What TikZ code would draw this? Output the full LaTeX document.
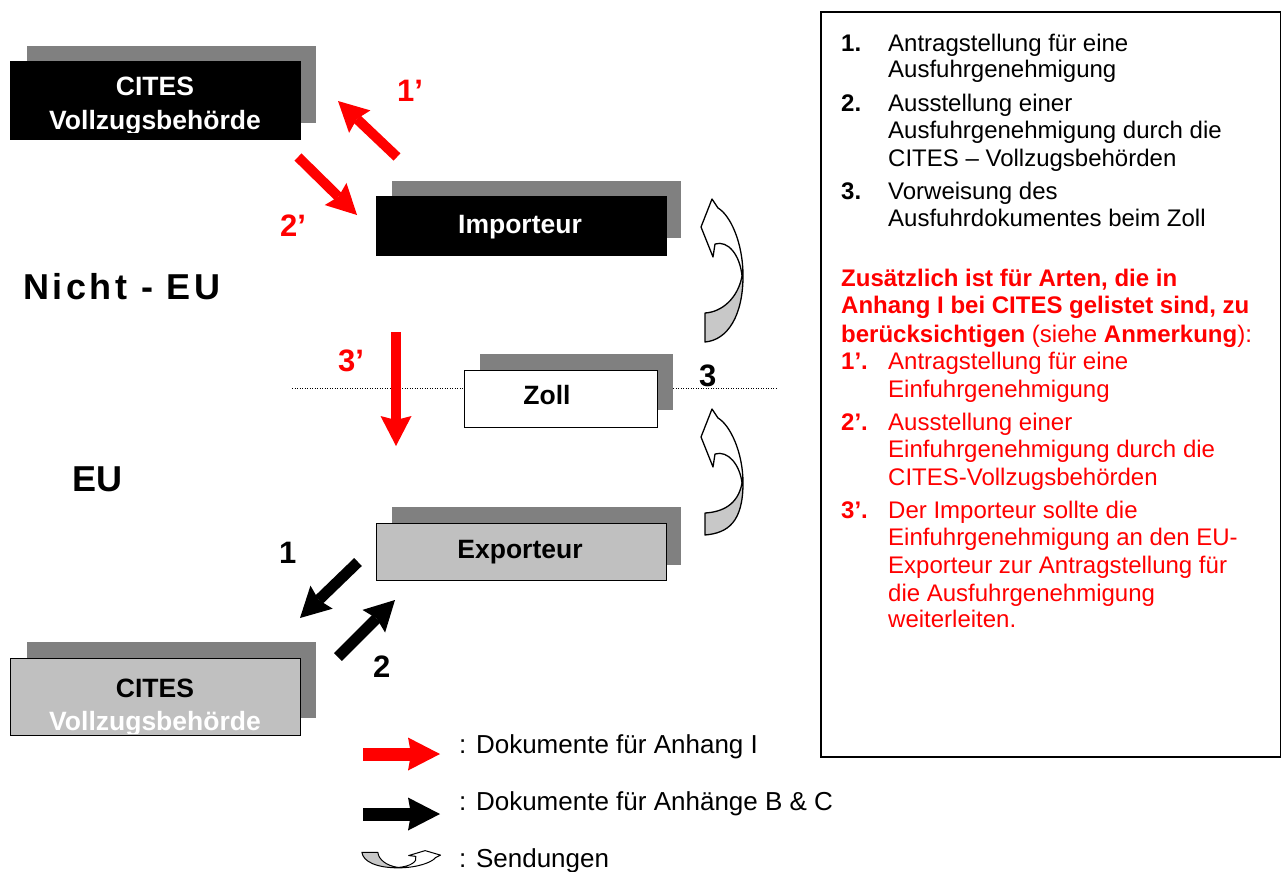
\documentclass[tikz,border=0pt]{standalone}
\usepackage{fontspec}
\setmainfont{Liberation Sans}
\usetikzlibrary{arrows.meta}
\definecolor{shadowgray}{HTML}{808080}
\definecolor{boxgray}{HTML}{C0C0C0}
\definecolor{ribbongray}{HTML}{C8C8C8}
\definecolor{citesred}{HTML}{FF0000}
\newcommand\sendungshape[3]{% #1 tail top, #2 tail bottom, #3 crossing
  \fill[white] (25,#2) .. controls (48,#2-2) and (63,#3+39) .. (63,#3) .. controls (63,62) and (50,35) .. (38,28) -- (32,19) -- (21,47) -- (33,77) -- (35,64) .. controls (48,60) and (60,75) .. (62,#3) .. controls (58,#3+22) and (42,#1-1) .. (25,#1) -- cycle;
  \fill[ribbongray] (62,#3) .. controls (58,#3+22) and (42,#1-1) .. (25,#1) -- (25,#2) .. controls (48,#2-2) and (63,#3+39) .. (63,#3) -- cycle;
  \draw[sendline] (25,#2) .. controls (48,#2-2) and (63,#3+39) .. (63,#3) .. controls (63,62) and (50,35) .. (38,28) -- (32,19) -- (21,47) -- (33,77) -- (35,64) .. controls (48,60) and (60,75) .. (62,#3) .. controls (58,#3+22) and (42,#1-1) .. (25,#1) -- cycle;
}
\begin{document}
\begin{tikzpicture}[x=1pt,y=-1pt,
  shadowbox/.style={fill=shadowgray, draw=none, inner sep=0, anchor=north west, minimum width=289pt},
  darkbox/.style={fill=black, draw=black, line width=0.8pt, inner sep=0, anchor=north west, minimum width=290pt},
  lightbox/.style={fill=boxgray, draw=black, line width=1.2pt, inner sep=0, anchor=north west, minimum width=290pt},
  whitebox/.style={fill=white, draw=black, line width=1.2pt, inner sep=0, anchor=north west, minimum width=193pt, minimum height=57pt},
  boxlbl/.style={anchor=base, inner sep=0, font=\fontsize{26.5}{30}\selectfont\bfseries},
  steplbl/.style={anchor=base west, inner sep=0, font=\fontsize{31}{34}\selectfont\bfseries},
  regionlbl/.style={anchor=base west, inner sep=0, font=\fontsize{36}{40}\selectfont\bfseries},
  txt/.style={anchor=base west, inner sep=0, font=\fontsize{24}{27}\selectfont},
  legtxt/.style={anchor=base west, inner sep=0, font=\fontsize{26}{30}\selectfont},
  redarrow/.style={draw=citesred, line width=10pt, -{Stealth[width=31pt,length=30pt,inset=4pt,line width=0pt]}},
  blackarrow/.style={draw=black, line width=11pt, -{Stealth[width=32pt,length=30pt,inset=4pt,line width=0pt]}},
  legredarrow/.style={draw=citesred, line width=13pt, -{Stealth[width=33pt,length=32pt,inset=3pt,line width=0pt]}},
  legblackarrow/.style={draw=black, line width=13pt, -{Stealth[width=33pt,length=32pt,inset=3pt,line width=0pt]}},
  sendline/.style={draw=black, line width=1.3pt, line join=round},
  sepline/.style={draw=black, line width=1pt, dash pattern=on 1pt off 1.5pt}
]
\useasboundingbox (0,0) rectangle (1281,871);

% ---- CITES top (Nicht-EU)
\node[shadowbox, minimum height=77pt] (citesAsh) at (27,46) {};
\node[darkbox, minimum height=78pt] (citesA) at (10,61) {};
\node[boxlbl, text=white] (citesAl1) at (155,95) {CITES};
\begin{scope}
  \clip (citesA.north west) rectangle (citesA.east |- 0,132);
  \node[boxlbl, text=white] (citesAl2) at (155,129) {Vollzugsbehörde};
\end{scope}

% ---- Importeur
\node[shadowbox, minimum height=57pt] (impsh) at (392,181) {};
\node[darkbox, minimum height=59pt] (imp) at (376,196) {};
\node[boxlbl, text=white] (impl) at (520,233) {Importeur};

% ---- Zoll
\node[shadowbox, minimum width=193pt, minimum height=56pt] (zollsh) at (480,354) {};
\node[whitebox] (zoll) at (464,370) {};
\node[boxlbl] (zolll) at (547,404) {Zoll};

% ---- Exporteur
\node[shadowbox, minimum height=58pt] (expsh) at (392,507) {};
\node[lightbox, minimum height=57pt] (exp) at (376,523) {};
\node[boxlbl] (expl) at (520,558) {Exporteur};

% ---- CITES bottom (EU)
\node[shadowbox, minimum height=76pt] (citesBsh) at (27,642) {};
\node[lightbox, minimum height=77pt] (citesB) at (10,658) {};
\node[boxlbl] (citesBl1) at (155,697) {CITES};
\begin{scope}
  \clip (citesB.north west) rectangle (citesB.east |- 0,733);
  \node[boxlbl, text=white] (citesBl2) at (155,730) {Vollzugsbehörde};
\end{scope}

% ---- region labels
\node[regionlbl] (nichteu) at (23,299) {\addfontfeature{LetterSpace=10}Nicht - EU};
\node[regionlbl] (eu) at (72,491) {EU};

% ---- dotted border
\coordinate (dl) at (292,388);
\coordinate (dr) at (776,388);
\draw[sepline] (dl) -- (dl -| zoll.west);
\draw[sepline] (dl -| zollsh.east) -- (dr);

% ---- red document arrows
\coordinate (a1s) at (397,157); \coordinate (a1e) at (338,101);
\coordinate (a2s) at (298,157); \coordinate (a2e) at (357,215);
\coordinate (a3s) at (396,332); \coordinate (a3e) at (396,446);
\draw[redarrow] (a1s) -- (a1e);
\draw[redarrow] (a2s) -- (a2e);
\draw[redarrow] (a3s) -- (a3e);
\node[steplbl, text=citesred] (l1r) at (397,101) {1’};
\node[steplbl, text=citesred] (l2r) at (280,236) {2’};
\node[steplbl, text=citesred] (l3r) at (338,371) {3’};

% ---- black document arrows
\coordinate (b1s) at (358,562); \coordinate (b1e) at (300,618);
\coordinate (b2s) at (338,657); \coordinate (b2e) at (395,600);
\draw[blackarrow] (b1s) -- (b1e);
\draw[blackarrow] (b2s) -- (b2e);
\node[steplbl] (l1b) at (279,563) {1};
\node[steplbl] (l2b) at (373,677) {2};
\node[steplbl] (l3b) at (699,386) {3};

% ---- shipment arrows
\begin{scope}[shift={(680,180)}]
  \sendungshape{133}{162}{96}
\end{scope}
\begin{scope}[shift={(680,390)}]
  \sendungshape{123}{145}{93}
\end{scope}

% ---- legend
\coordinate (lg1s) at (363,754); \coordinate (lg1e) at (440,754);
\coordinate (lg2s) at (363,814); \coordinate (lg2e) at (440,814);
\draw[legredarrow] (lg1s) -- (lg1e);
\draw[legblackarrow] (lg2s) -- (lg2e);
\begin{scope}[shift={(451,842)}, x={(0pt,-0.41pt)}, y={(-0.55pt,0pt)}, sendline/.style={draw=black, line width=1pt, line join=round}]
  \sendungshape{133}{162}{96}
\end{scope}
\node[legtxt] (lgt1) at (459,753) {: Dokumente für Anhang I};
\node[legtxt] (lgt2) at (459,810) {: Dokumente für Anhänge B \& C};
\node[legtxt] (lgt3) at (459,867) {: Sendungen};

% ---- explanation box
\node[draw=black, line width=1.6pt, inner sep=0, anchor=north west, minimum width=460pt, minimum height=745pt] (notes) at (820,11) {};
\node[txt, font=\fontsize{24}{27}\selectfont\bfseries] (n1) at (841,51) {1.};
\node[txt] (t1a) at (888,51) {Antragstellung für eine};
\node[txt] (t1b) at (888,77) {Ausfuhrgenehmigung};
\node[txt, font=\fontsize{24}{27}\selectfont\bfseries] (n2) at (841,111) {2.};
\node[txt] (t2a) at (888,111) {Ausstellung einer};
\node[txt] (t2b) at (888,138) {Ausfuhrgenehmigung durch die};
\node[txt] (t2c) at (888,166) {CITES – Vollzugsbehörden};
\node[txt, font=\fontsize{24}{27}\selectfont\bfseries] (n3) at (841,199) {3.};
\node[txt] (t3a) at (888,199) {Vorweisung des};
\node[txt] (t3b) at (888,226) {Ausfuhrdokumentes beim Zoll};

\begin{scope}[text=citesred]
\node[txt, font=\fontsize{24}{27}\selectfont\bfseries] (r1) at (841,286) {Zusätzlich ist für Arten, die in};
\node[txt, font=\fontsize{24}{27}\selectfont\bfseries] (r2) at (841,313) {Anhang I bei CITES gelistet sind, zu};
\node[txt] (r3) at (841,342) {\textbf{berücksichtigen} (siehe \textbf{Anmerkung}):};
\node[txt, font=\fontsize{24}{27}\selectfont\bfseries] (n4) at (841,369) {1’.};
\node[txt] (t4a) at (888,369) {Antragstellung für eine};
\node[txt] (t4b) at (888,397) {Einfuhrgenehmigung};
\node[txt, font=\fontsize{24}{27}\selectfont\bfseries] (n5) at (841,430) {2’.};
\node[txt] (t5a) at (888,430) {Ausstellung einer};
\node[txt] (t5b) at (888,457) {Einfuhrgenehmigung durch die};
\node[txt] (t5c) at (888,485) {CITES-Vollzugsbehörden};
\node[txt, font=\fontsize{24}{27}\selectfont\bfseries] (n6) at (841,518) {3’.};
\node[txt] (t6a) at (888,518) {Der Importeur sollte die};
\node[txt] (t6b) at (888,545) {Einfuhrgenehmigung an den EU-};
\node[txt] (t6c) at (888,573) {Exporteur zur Antragstellung für};
\node[txt] (t6d) at (888,601) {die Ausfuhrgenehmigung};
\node[txt] (t6e) at (888,627) {weiterleiten.};
\end{scope}
\end{tikzpicture}
\end{document}
